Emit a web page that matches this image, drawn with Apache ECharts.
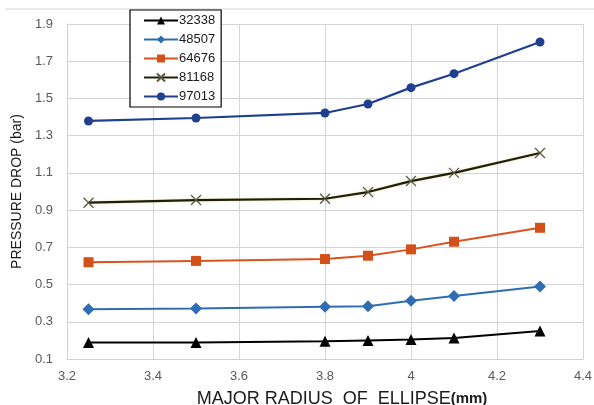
<!DOCTYPE html>
<html>
<head>
<meta charset="utf-8">
<script src="https://cdn.jsdelivr.net/npm/echarts@6/dist/echarts.min.js"></script>
<style>
  html, body { margin: 0; padding: 0; background: #fff; }
  #chart { width: 594px; height: 405px; }
</style>
</head>
<body>
<div id="chart"></div>
<script>
// Major radius of the ellipse (mm)
const radius = [3.25, 3.5, 3.8, 3.9, 4.0, 4.1, 4.3];

// Pressure drop (bar) for each Reynolds-number case
const seriesNames = ['32338', '48507', '64676', '81168', '97013'];
const drop32338 = [0.188, 0.188, 0.195, 0.200, 0.205, 0.213, 0.250];
const drop48507 = [0.367, 0.372, 0.381, 0.383, 0.413, 0.438, 0.490];
const drop64676 = [0.620, 0.627, 0.637, 0.655, 0.689, 0.730, 0.805];
const drop81168 = [0.940, 0.954, 0.961, 0.997, 1.056, 1.100, 1.207];
const drop97013 = [1.379, 1.395, 1.422, 1.470, 1.558, 1.633, 1.803];

const xTicks = [3.2, 3.4, 3.6, 3.8, 4.0, 4.2, 4.4];
const yTicks = [0.1, 0.3, 0.5, 0.7, 0.9, 1.1, 1.3, 1.5, 1.7, 1.9];

const pairs = (ys) => radius.map((x, i) => [x, ys[i]]);

const crossPath = 'path://M0,0 L10,10 M10,0 L0,10';

const chart = echarts.init(document.getElementById('chart'));
chart.setOption({
  animation: false,
  backgroundColor: '#ffffff',
  grid: { left: 67, right: 11, top: 24, bottom: 46, containLabel: false, outerBoundsMode: 'none' },
  graphic: [{
    type: 'line',
    shape: { x1: 5, y1: 9, x2: 594, y2: 9 },
    style: { stroke: '#d4d4d4', lineWidth: 1 }
  }],
  legend: {
    left: 130, top: 10,
    orient: 'vertical',
    itemWidth: 34, itemHeight: 10, itemGap: 6,
    padding: [4, 6, 4, 13],
    borderColor: '#000', borderWidth: 1.2,
    backgroundColor: '#fff',
    textStyle: { fontFamily: 'Liberation Sans', fontSize: 13, color: '#1a1a1a', padding: [0, 0, 0, -4] },
    data: seriesNames
  },
  xAxis: {
    type: 'value',
    min: 3.2, max: 4.4, interval: 0.2,
    name: 'MAJOR RADIUS  OF  ELLIPSE{b|(mm)}',
    nameLocation: 'middle', nameGap: 31,
    nameTextStyle: {
      fontFamily: 'Liberation Sans', fontSize: 18, color: '#1a1a1a',
      padding: [0, 0, 0, 34],
      rich: { b: { fontFamily: 'Liberation Sans', fontSize: 15, fontWeight: 'bold', color: '#1a1a1a' } }
    },
    axisLine: { show: true, lineStyle: { color: '#cfcfcf' } },
    axisTick: { show: false },
    splitLine: { show: true, lineStyle: { color: '#d4d4d4' } },
    axisLabel: {
      fontFamily: 'Liberation Sans', fontSize: 13, color: '#595959', margin: 11,
      formatter: (v) => {
        const t = xTicks.find(k => Math.abs(k - v) < 1e-6);
        return t === undefined ? '' : String(+t.toFixed(1));
      }
    }
  },
  yAxis: {
    type: 'value',
    min: 0.1, max: 1.9, interval: 0.2,
    name: 'PRESSURE DROP (bar)',
    nameLocation: 'middle', nameGap: 41, nameRotate: 90,
    nameTextStyle: { fontFamily: 'Liberation Sans', fontSize: 14, color: '#1a1a1a' },
    axisLine: { show: true, lineStyle: { color: '#cfcfcf' } },
    axisTick: { show: false },
    splitLine: { show: true, lineStyle: { color: '#d4d4d4' } },
    axisLabel: {
      fontFamily: 'Liberation Sans', fontSize: 13, color: '#595959', margin: 14,
      formatter: (v) => {
        const t = yTicks.find(k => Math.abs(k - v) < 1e-6);
        return t === undefined ? '' : t.toFixed(1);
      }
    }
  },
  series: [
    {
      name: '32338', type: 'line', data: pairs(drop32338),
      symbol: 'triangle', symbolSize: 11,
      lineStyle: { color: '#000', width: 2 },
      itemStyle: { color: '#000' }
    },
    {
      name: '48507', type: 'line', data: pairs(drop48507),
      symbol: 'diamond', symbolSize: 12,
      lineStyle: { color: '#2f6db3', width: 2 },
      itemStyle: { color: '#2f6db3' }
    },
    {
      name: '64676', type: 'line', data: pairs(drop64676),
      symbol: 'rect', symbolSize: 10,
      lineStyle: { color: '#d9531e', width: 2 },
      itemStyle: { color: '#d4501a' }
    },
    {
      name: '81168', type: 'line', data: pairs(drop81168),
      symbol: crossPath, symbolSize: 10,
      lineStyle: { color: '#1f1e0c', width: 2.2, shadowColor: 'rgba(200,180,60,0.5)', shadowBlur: 2 },
      itemStyle: { color: 'rgba(0,0,0,0)', borderColor: '#5a5940', borderWidth: 1.3 }
    },
    {
      name: '97013', type: 'line', data: pairs(drop97013),
      symbol: 'circle', symbolSize: 9,
      lineStyle: { color: '#1f3f8f', width: 2.2 },
      itemStyle: { color: '#1f3f8f' }
    }
  ]
});
</script>
</body>
</html>
